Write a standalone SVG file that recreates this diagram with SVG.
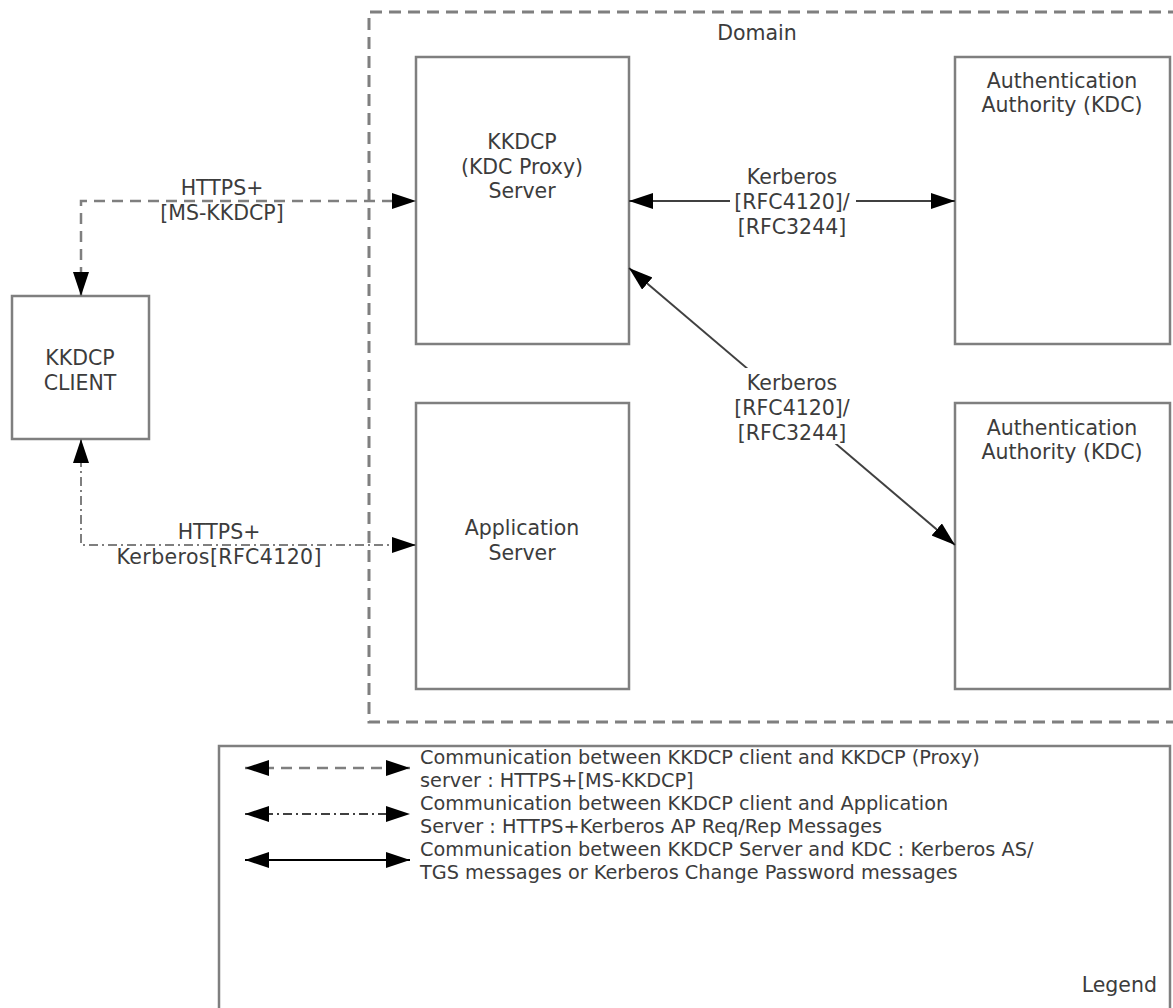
<svg xmlns="http://www.w3.org/2000/svg" width="1173" height="1008" viewBox="0 0 1173 1008">
<defs>
<style>
text{font-family:"DejaVu Sans",Verdana,sans-serif;font-size:20.5px;fill:#3c3c3c}
.c{text-anchor:middle}
.lg{font-size:19.3px}
.box{fill:#fff;stroke:#7f7f7f;stroke-width:2.5}
.dash{fill:none;stroke:#7f7f7f;stroke-width:2.5;stroke-dasharray:11 7}
.dashdot{fill:none;stroke:#7f7f7f;stroke-width:2;stroke-dasharray:9 4 2 4}
.solid{fill:none;stroke:#404040;stroke-width:2}
.lab{fill:#fff;stroke:none}
</style>
<marker id="ah" markerUnits="userSpaceOnUse" markerWidth="26" markerHeight="18" refX="24" refY="8" orient="auto-start-reverse" viewBox="0 0 26 18">
<path d="M0,0 L24,8 L0,16 z" fill="#000"/>
</marker>
</defs>
<rect width="1173" height="1008" fill="#fff"/>

<g id="domain">
<path d="M1180,12 H369 V722 H1180" fill="none" stroke="#7f7f7f" stroke-width="3" stroke-dasharray="12 7"/>
<text class="c" x="757" y="40">Domain</text>
</g>

<g id="kkdcp-server">
<rect class="box" x="416" y="57" width="213" height="287"/>
<text class="c" x="522" y="149">KKDCP</text>
<text class="c" x="522" y="174">(KDC Proxy)</text>
<text class="c" x="522" y="198">Server</text>
</g>

<g id="application-server">
<rect class="box" x="416" y="403" width="213" height="286"/>
<text class="c" x="522" y="535">Application</text>
<text class="c" x="522" y="560">Server</text>
</g>

<g id="kdc-1">
<rect class="box" x="955" y="57" width="215" height="287"/>
<text class="c" x="1062" y="88">Authentication</text>
<text class="c" x="1062" y="112">Authority (KDC)</text>
</g>

<g id="kdc-2">
<rect class="box" x="955" y="403" width="215" height="286"/>
<text class="c" x="1062" y="435">Authentication</text>
<text class="c" x="1062" y="459">Authority (KDC)</text>
</g>

<g id="kkdcp-client">
<rect class="box" x="12" y="296" width="137" height="143"/>
<text class="c" x="80" y="365">KKDCP</text>
<text class="c" x="80" y="390">CLIENT</text>
</g>

<g id="connectors">
<path class="dash" d="M81,296 V201 H416" marker-start="url(#ah)" marker-end="url(#ah)"/>
<rect class="lab" x="156" y="203" width="134" height="18"/>
<text class="c" x="222" y="195">HTTPS+</text>
<text class="c" x="222" y="220">[MS-KKDCP]</text>

<path class="dashdot" d="M81,439 V545 H416" marker-start="url(#ah)" marker-end="url(#ah)"/>
<rect class="lab" x="112" y="547" width="214" height="18"/>
<text class="c" x="219" y="539">HTTPS+</text>
<text class="c" x="219" y="564" textLength="205">Kerberos[RFC4120]</text>

<path class="solid" d="M629,201 H955" marker-start="url(#ah)" marker-end="url(#ah)"/>
<rect class="lab" x="730" y="191" width="126" height="20"/>
<text class="c" x="792" y="184">Kerberos</text>
<text class="c" x="792" y="209">[RFC4120]/</text>
<text class="c" x="792" y="234">[RFC3244]</text>

<path class="solid" d="M629,268 L955,545" marker-start="url(#ah)" marker-end="url(#ah)"/>
<rect class="lab" x="730" y="368" width="126" height="76"/>
<text class="c" x="792" y="390">Kerberos</text>
<text class="c" x="792" y="415">[RFC4120]/</text>
<text class="c" x="792" y="440">[RFC3244]</text>
</g>

<g id="legend">
<rect class="box" x="219" y="746" width="951" height="264"/>
<path class="dash" d="M245,768 H410" marker-start="url(#ah)" marker-end="url(#ah)"/>
<path class="dashdot" d="M245,814 H410" marker-start="url(#ah)" marker-end="url(#ah)" style="stroke:#404040"/>
<path class="solid" d="M245,860 H410" marker-start="url(#ah)" marker-end="url(#ah)" style="stroke:#000"/>
<text class="lg" x="420" y="764">Communication between KKDCP client and KKDCP (Proxy)</text>
<text class="lg" x="420" y="787">server : HTTPS+[MS-KKDCP]</text>
<text class="lg" x="420" y="810">Communication between KKDCP client and Application</text>
<text class="lg" x="420" y="833">Server : HTTPS+Kerberos AP Req/Rep Messages</text>
<text class="lg" x="420" y="856">Communication between KKDCP Server and KDC : Kerberos AS/</text>
<text class="lg" x="420" y="879">TGS messages or Kerberos Change Password messages</text>
<text x="1157" y="992" style="text-anchor:end">Legend</text>
</g>
</svg>
